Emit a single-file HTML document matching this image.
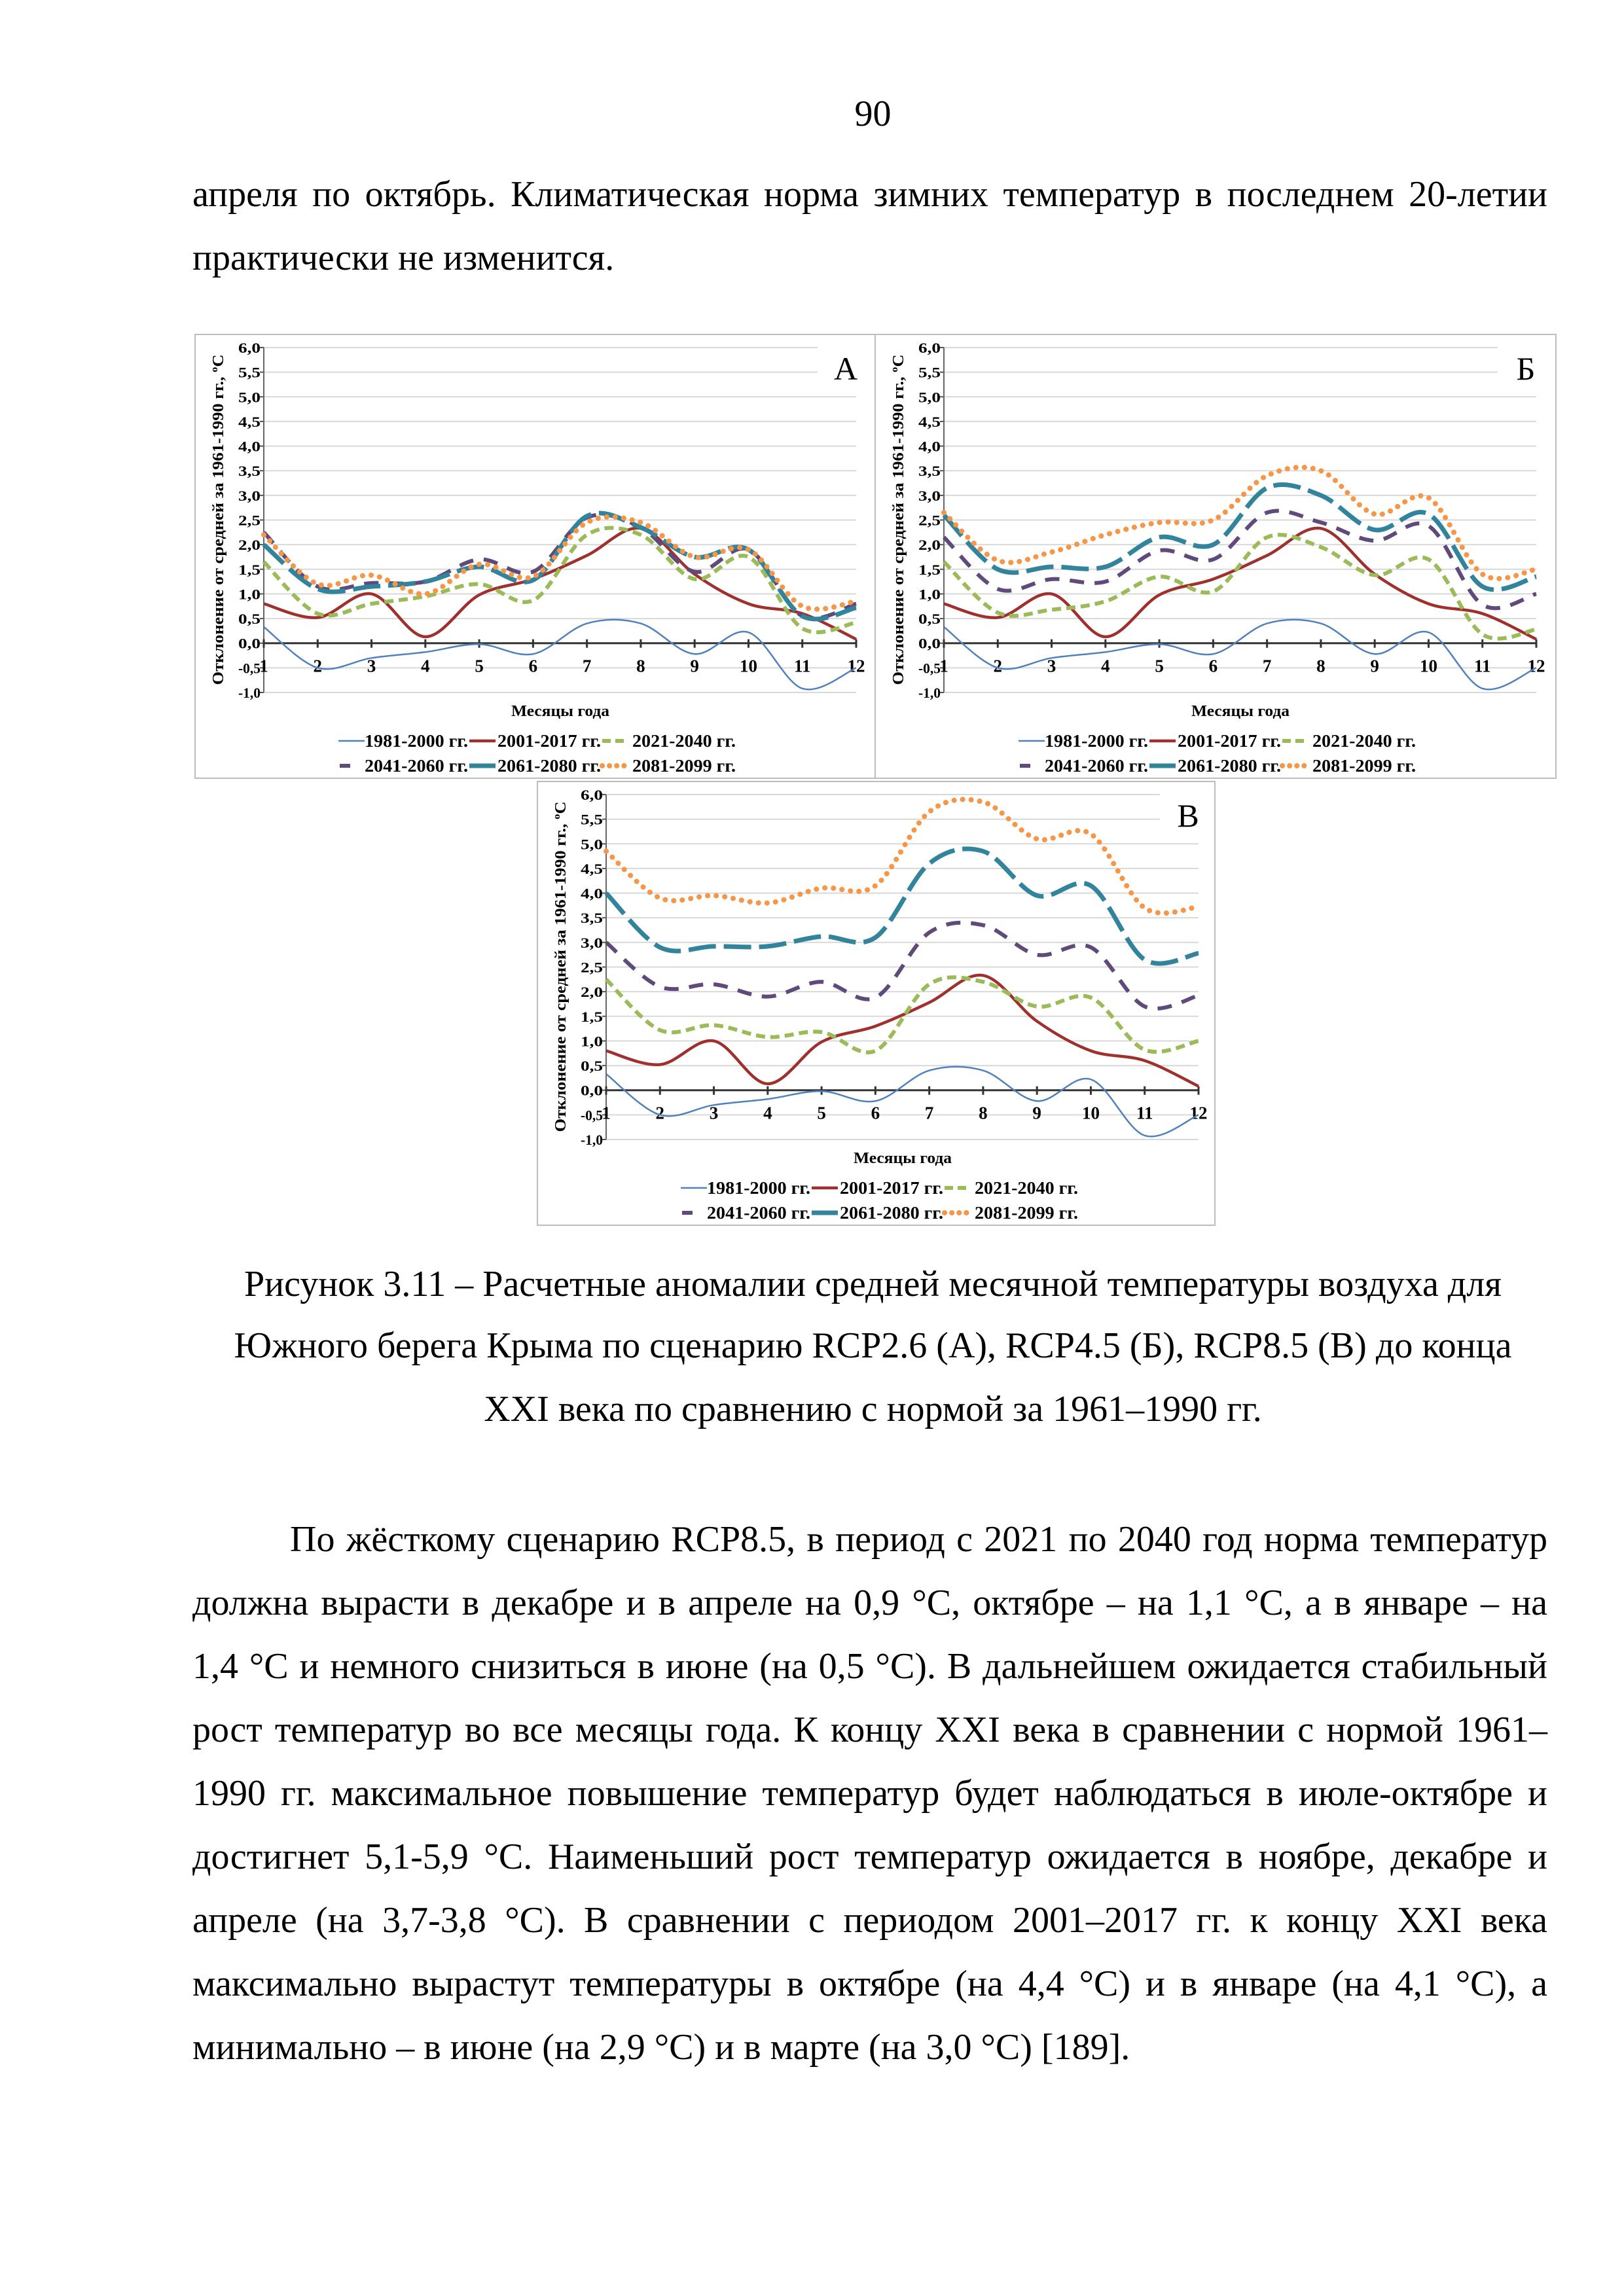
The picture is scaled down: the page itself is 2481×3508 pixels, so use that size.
<!DOCTYPE html>
<html><head><meta charset="utf-8">
<style>
html,body{margin:0;padding:0;background:#fff;}
body{width:2481px;height:3508px;position:relative;overflow:hidden;font-family:"Liberation Serif",serif;color:#000;}
.l{position:absolute;left:294px;width:2079px;font-size:56px;line-height:64px;white-space:nowrap;}
.j{text-align:justify;text-align-last:justify;white-space:normal;}
.c{text-align:center;}
.box{position:absolute;border:2px solid #bdbdbd;box-sizing:border-box;background:#fff;}
svg text{font-family:"Liberation Serif",serif;font-weight:bold;}
</style></head><body>
<div class="l c" style="top:142px;">90</div>
<div class="l j" style="top:265px;width:2070px;">апреля по октябрь. Климатическая норма зимних температур в последнем 20-летии</div>
<div class="l" style="top:362px;">практически не изменится.</div>

<div class="box" style="left:297px;top:510px;width:1041px;height:680px;"><svg id="A" width="1037" height="676"></svg></div>
<div class="box" style="left:1336px;top:510px;width:1042px;height:680px;"><svg id="B" width="1038" height="676"></svg></div>
<div class="box" style="left:820px;top:1193px;width:1037px;height:680px;"><svg id="V" width="1033" height="676"></svg></div>

<div class="l c" style="top:1930px;">Рисунок 3.11 – Расчетные аномалии средней месячной температуры воздуха для</div>
<div class="l c" style="top:2024px;">Южного берега Крыма по сценарию RCP2.6 (А), RCP4.5 (Б), RCP8.5 (В) до конца</div>
<div class="l c" style="top:2121px;">XXI века по сравнению с нормой за 1961–1990 гг.</div>

<div class="l j" style="top:2320px;left:443px;width:1921px;">По жёсткому сценарию RCP8.5, в период с 2021 по 2040 год норма температур</div>
<div class="l j" style="top:2417px;width:2070px;">должна вырасти в декабре и в апреле на 0,9 °С, октябре – на 1,1 °С, а в январе – на</div>
<div class="l j" style="top:2514px;width:2070px;">1,4 °С и немного снизиться в июне (на 0,5 °С). В дальнейшем ожидается стабильный</div>
<div class="l j" style="top:2611px;width:2070px;">рост температур во все месяцы года. К концу XXI века в сравнении с нормой 1961–</div>
<div class="l j" style="top:2708px;width:2070px;">1990 гг. максимальное повышение температур будет наблюдаться в июле-октябре и</div>
<div class="l j" style="top:2805px;width:2070px;">достигнет 5,1-5,9 °С. Наименьший рост температур ожидается в ноябре, декабре и</div>
<div class="l j" style="top:2902px;width:2070px;">апреле (на 3,7-3,8 °С). В сравнении с периодом 2001–2017 гг. к концу XXI века</div>
<div class="l j" style="top:2999px;width:2070px;">максимально вырастут температуры в октябре (на 4,4 °С) и в январе (на 4,1 °С), а</div>
<div class="l" style="top:3096px;">минимально – в июне (на 2,9 °С) и в марте (на 3,0 °С) [189].</div>

<script>
var s1=[0.33,-0.5,-0.3,-0.18,-0.02,-0.22,0.4,0.4,-0.22,0.22,-0.92,-0.5];
var s2=[0.8,0.52,1.0,0.13,0.98,1.3,1.78,2.33,1.4,0.8,0.6,0.08];
var D={
A:{lab:"А",s:[s1,s2,[1.65,0.6,0.8,0.95,1.2,0.87,2.2,2.2,1.3,1.75,0.3,0.42],[2.25,1.15,1.22,1.25,1.7,1.45,2.55,2.35,1.45,1.9,0.55,0.8],[2.0,1.1,1.15,1.25,1.55,1.28,2.58,2.35,1.75,1.9,0.55,0.72],[2.2,1.2,1.38,1.0,1.6,1.35,2.45,2.45,1.75,1.9,0.75,0.85]]},
B:{lab:"Б",s:[s1,s2,[1.65,0.62,0.68,0.85,1.35,1.05,2.15,1.95,1.38,1.7,0.18,0.28],[2.15,1.1,1.3,1.25,1.88,1.7,2.65,2.45,2.08,2.38,0.78,1.0],[2.6,1.5,1.55,1.55,2.15,2.0,3.15,3.0,2.3,2.62,1.15,1.35],[2.65,1.68,1.85,2.2,2.45,2.5,3.4,3.5,2.62,2.95,1.4,1.5]]},
V:{lab:"В",s:[s1,s2,[2.25,1.22,1.32,1.08,1.18,0.8,2.15,2.2,1.7,1.88,0.82,1.0],[3.0,2.1,2.15,1.9,2.2,1.88,3.2,3.35,2.75,2.9,1.7,1.92],[4.0,2.9,2.92,2.92,3.12,3.1,4.6,4.85,3.95,4.15,2.65,2.78],[4.85,3.9,3.95,3.8,4.1,4.15,5.65,5.85,5.1,5.2,3.7,3.72]]}
};
var ST=[
{c:"#4f81bd",w:2.5,d:"",cap:"butt"},
{c:"#a0302e",w:4.5,d:"",cap:"butt"},
{c:"#9bbb59",w:6,d:"14 8",cap:"butt"},
{c:"#604a7b",w:6,d:"22 16",cap:"butt"},
{c:"#31849b",w:7,d:"42 12",cap:"butt"},
{c:"#f79646",w:8,d:"0.1 13",cap:"round"}];
function build(id){
 var d=D[id],L=104,R=1009,T=19,Bm=546;
 var ys=function(v){return T+(6-v)*(Bm-T)/7;};
 var xs=function(m){return L+(m-1)*(R-L)/11;};
 var h="";
 for(var i=0;i<=14;i++){var v=6-i*0.5;var y=ys(v);
  if(Math.abs(v)>0.01){var rr=(v>=5.4)?950:R;h+='<line x1="'+L+'" x2="'+rr+'" y1="'+y+'" y2="'+y+'" stroke="#d9d9d9" stroke-width="2"/>';}
  h+='<line x1="'+(L-6)+'" x2="'+L+'" y1="'+y+'" y2="'+y+'" stroke="#555" stroke-width="2"/>';
  h+='<text x="'+(L-5)+'" y="'+(y+8)+'" font-size="22" text-anchor="end" textLength="34" lengthAdjust="spacingAndGlyphs">'+v.toFixed(1).replace(".",",")+'</text>';}
 h+='<line x1="'+L+'" x2="'+L+'" y1="'+T+'" y2="'+Bm+'" stroke="#666" stroke-width="2"/>';
 var y0=ys(0);
 h+='<line x1="'+L+'" x2="'+R+'" y1="'+y0+'" y2="'+y0+'" stroke="#333" stroke-width="3"/>';
 for(var m=1;m<=12;m++){var x=xs(m);h+='<line x1="'+x+'" x2="'+x+'" y1="'+(y0-6)+'" y2="'+(y0+7)+'" stroke="#333" stroke-width="3"/>';
  h+='<text x="'+x+'" y="'+(y0+44)+'" font-size="27" text-anchor="middle">'+m+'</text>';}
 h+='<text x="993" y="68" font-size="50" style="font-weight:normal" text-anchor="middle">'+d.lab+'</text>';
 h+='<text transform="translate(42,282) rotate(-90)" font-size="24" text-anchor="middle" textLength="505" lengthAdjust="spacingAndGlyphs">Отклонение от средней за 1961-1990 гг., <tspan font-size="15" dy="-9">o</tspan><tspan dy="9">С</tspan></text>';
 h+='<text x="557" y="582" font-size="24" text-anchor="middle" textLength="150" lengthAdjust="spacingAndGlyphs">Месяцы года</text>';
 for(var k=0;k<6;k++){var p=d.s[k],pts=p.map(function(v,i){return[xs(i+1),ys(v)];});
  var path="M"+pts[0][0]+","+pts[0][1];
  for(var i=0;i<11;i++){var p0=pts[Math.max(i-1,0)],p1=pts[i],p2=pts[i+1],p3=pts[Math.min(i+2,11)];
   var c1=[p1[0]+(p2[0]-p0[0])/6,p1[1]+(p2[1]-p0[1])/6],c2=[p2[0]-(p3[0]-p1[0])/6,p2[1]-(p3[1]-p1[1])/6];
   path+=" C"+c1[0]+","+c1[1]+" "+c2[0]+","+c2[1]+" "+p2[0]+","+p2[1];}
  var s=ST[k];
  h+='<path d="'+path+'" fill="none" stroke="'+s.c+'" stroke-width="'+s.w+'" stroke-dasharray="'+s.d+'" stroke-linecap="'+s.cap+'"/>';}
 var names=["1981-2000 гг.","2001-2017 гг.","2021-2040 гг.","2041-2060 гг.","2061-2080 гг.","2081-2099 гг."];
 var lx=[218,418,621],tx=[258,461,667];
 var ld=["","","13 7","","","0.1 11"];
 for(var k=0;k<6;k++){var r=Math.floor(k/3),c=k%3,y=[629,667][r],s=ST[k];
  var x1=lx[c],x2=lx[c]+40;if(k==3){x1=220;x2=236;}
  h+='<line x1="'+x1+'" x2="'+x2+'" y1="'+(y-9)+'" y2="'+(y-9)+'" stroke="'+s.c+'" stroke-width="'+s.w+'" stroke-dasharray="'+ld[k]+'" stroke-linecap="'+s.cap+'"/>';
  h+='<text x="'+tx[c]+'" y="'+y+'" font-size="27" textLength="158" lengthAdjust="spacingAndGlyphs">'+names[k]+'</text>';}
 document.getElementById(id).innerHTML=h;
}
build("A");build("B");build("V");
</script>
</body></html>
